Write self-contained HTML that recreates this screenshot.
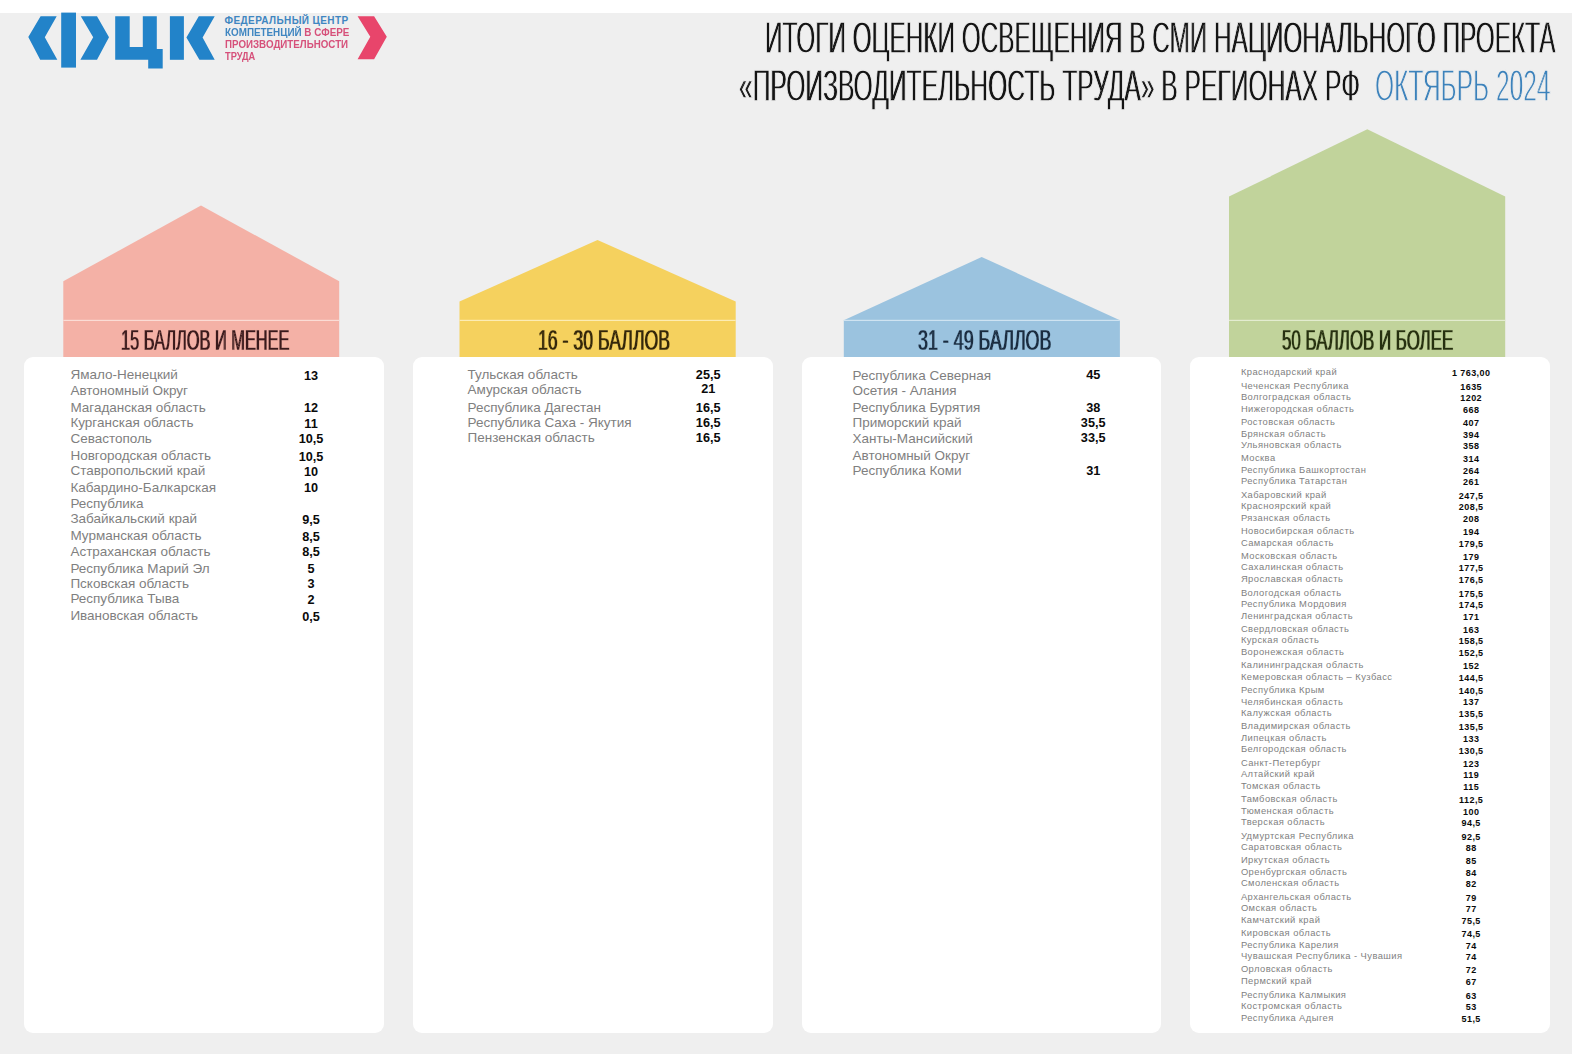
<!DOCTYPE html>
<html lang="ru"><head><meta charset="utf-8"><title>Итоги оценки освещения в СМИ</title>
<style>
html,body{margin:0;padding:0}
body{width:1572px;height:1054px;position:relative;overflow:hidden;background:#efefef;font-family:"Liberation Sans",sans-serif}
.top{position:absolute;left:0;top:0;width:1572px;height:13px;background:#fff}
.t{position:absolute;white-space:nowrap;margin:0;padding:0}
.c{text-align:center}
.n{color:#7f7f7f}
.v{color:#0a0a0a;font-weight:bold}
.card{position:absolute;background:#fff;border-radius:9px}
.cond{transform-origin:0 0}
svg{position:absolute;left:0;top:0}
.lg{font-weight:bold}
.er::before,.er::after{position:absolute;top:0;white-space:nowrap;mix-blend-mode:darken}
.et0::before,.et0::after{content:"ИТОГИ ОЦЕНКИ ОСВЕЩЕНИЯ В СМИ НАЦИОНАЛЬНОГО ПРОЕКТА"}.et0::before{left:-1.00px}.et0::after{left:1.00px}
.et1::before,.et1::after{content:"«ПРОИЗВОДИТЕЛЬНОСТЬ ТРУДА» В РЕГИОНАХ РФ"}.et1::before{left:-1.00px}.et1::after{left:1.00px}
.et2::before,.et2::after{content:"ОКТЯБРЬ 2024"}.et2::before{left:-0.54px}.et2::after{left:0.54px}
.eh0::before,.eh0::after{content:"15 БАЛЛОВ И МЕНЕЕ"}.eh0::before{left:-0.85px}.eh0::after{left:0.85px}
.eh1::before,.eh1::after{content:"16 - 30 БАЛЛОВ"}.eh1::before{left:-0.85px}.eh1::after{left:0.85px}
.eh2::before,.eh2::after{content:"31 - 49 БАЛЛОВ"}.eh2::before{left:-0.85px}.eh2::after{left:0.85px}
.eh3::before,.eh3::after{content:"50 БАЛЛОВ И БОЛЕЕ"}.eh3::before{left:-0.85px}.eh3::after{left:0.85px}
</style></head><body>
<div class="top"></div>

<svg width="1572" height="1054" viewBox="0 0 1572 1054">
<g fill="#2283c9">
<polygon points="40.6,16.2 56.7,16.2 44.8,37.3 57.3,59.8 40.2,59.8 28.3,37"/>
<rect x="61.2" y="12.6" width="14.8" height="55"/>
<polygon points="80.8,16.2 97,16.2 109,37.3 97,59.8 80.4,59.8 93.2,37.3"/>
<polygon points="115.2,16.2 129.7,16.2 129.7,47 142.8,47 142.8,16.2 156.8,16.2 156.8,48.9 162.7,48.9 162.7,68.4 148.2,68.4 148.2,59.8 115.2,59.8"/>
<rect x="169.9" y="16.2" width="14" height="43.6"/>
<polygon points="198.8,16.2 214.7,16.2 202.6,37.4 214.7,59.8 199.4,59.8 186.4,37.4"/>
</g>
<polygon fill="#e8456b" points="357.6,16.2 374.1,16.2 386.8,36.8 374.1,59.2 357.6,59.2 370.3,36.8"/>
<polygon fill="#f4b1a6" points="63.3,281.2 201,205.6 339.2,281.2 339.2,357.5 63.3,357.5"/>
<rect x="63.3" y="319.8" width="275.9" height="1.2" fill="#fbdcd5"/>
<polygon fill="#f5d15e" points="459.5,301.5 597.5,240 735.7,301.5 735.7,357.5 459.5,357.5"/>
<rect x="459.5" y="319.8" width="276.2" height="1.2" fill="#fcecb4"/>
<polygon fill="#9bc3df" points="843.8,320.2 981.7,257 1119.9,320.2 1119.9,357.5 843.8,357.5"/>
<rect x="843.8" y="319.8" width="276.1" height="1.2" fill="#cfe3f1"/>
<polygon fill="#c1d39b" points="1229,196.6 1367.3,129.2 1505.2,196.6 1505.2,357.5 1229,357.5"/>
<rect x="1229" y="319.8" width="276.2" height="1.2" fill="#e3ecd0"/>
</svg>
<div class="card" style="left:24.4px;top:356.5px;width:359.6px;height:676.4px"></div>
<div class="card" style="left:413.0px;top:356.5px;width:359.6px;height:676.4px"></div>
<div class="card" style="left:801.6px;top:356.5px;width:359.6px;height:676.4px"></div>
<div class="card" style="left:1190.2px;top:356.5px;width:359.4px;height:676.4px"></div>
<div class="t lg cond" style="left:224.6px;top:16px;font-size:10px;line-height:10px;letter-spacing:0.39px;transform:scaleX(1)"><span style="color:#3f86c1">ФЕДЕРАЛЬНЫЙ ЦЕНТР</span></div>
<div class="t lg cond" style="left:224.6px;top:28px;font-size:10px;line-height:10px;letter-spacing:0px;transform:scaleX(0.985)"><span style="color:#3f86c1">КОМПЕТЕНЦИЙ</span> <span style="color:#d6507a">В СФЕРЕ</span></div>
<div class="t lg cond" style="left:224.6px;top:40px;font-size:10px;line-height:10px;letter-spacing:0px;transform:scaleX(0.976)"><span style="color:#d6507a">ПРОИЗВОДИТЕЛЬНОСТИ</span></div>
<div class="t lg cond" style="left:224.6px;top:52px;font-size:10px;line-height:10px;letter-spacing:0px;transform:scaleX(0.925)"><span style="color:#d6507a">ТРУДА</span></div>
<div class="t cond er et0" style="left:764.5px;top:15px;font-size:45.2px;line-height:45.2px;transform:scaleX(0.5386);color:#141414;-webkit-text-stroke:1.4px #efefef;">ИТОГИ ОЦЕНКИ ОСВЕЩЕНИЯ В СМИ НАЦИОНАЛЬНОГО ПРОЕКТА</div>
<div class="t cond er et1" style="left:739.4px;top:63px;font-size:45.2px;line-height:45.2px;transform:scaleX(0.5448);color:#141414;-webkit-text-stroke:1.4px #efefef;">«ПРОИЗВОДИТЕЛЬНОСТЬ ТРУДА» В РЕГИОНАХ РФ</div>
<div class="t cond er et2" style="left:1375.4px;top:64px;font-size:44px;line-height:44px;transform:scaleX(0.5578);color:#3c82bb;-webkit-text-stroke:1.7px #efefef;">ОКТЯБРЬ 2024</div>
<div class="t cond er eh0" style="left:120.6px;top:325px;font-size:29.4px;line-height:29.4px;transform:scaleX(0.5564);color:#3a1a1c;-webkit-text-stroke:0.4px #f4b1a6;">15 БАЛЛОВ И МЕНЕЕ</div>
<div class="t cond er eh1" style="left:538.0px;top:325px;font-size:29.4px;line-height:29.4px;transform:scaleX(0.6015);color:#33260a;-webkit-text-stroke:0.4px #f5d15e;">16 - 30 БАЛЛОВ</div>
<div class="t cond er eh2" style="left:918.0px;top:325px;font-size:29.4px;line-height:29.4px;transform:scaleX(0.6075);color:#1a2c40;-webkit-text-stroke:0.4px #9bc3df;">31 - 49 БАЛЛОВ</div>
<div class="t cond er eh3" style="left:1282.4px;top:325px;font-size:29.4px;line-height:29.4px;transform:scaleX(0.574);color:#26300f;-webkit-text-stroke:0.4px #c1d39b;">50 БАЛЛОВ И БОЛЕЕ</div>
<div class="t n" style="left:70.4px;top:368px;font-size:13.5px;line-height:13.5px;">Ямало-Ненецкий</div>
<div class="t c v" style="left:211.0px;width:200px;top:370px;font-size:12.7px;line-height:12.7px;">13</div>
<div class="t n" style="left:70.4px;top:384px;font-size:13.5px;line-height:13.5px;">Автономный Округ</div>
<div class="t n" style="left:70.4px;top:401px;font-size:13.5px;line-height:13.5px;">Магаданская область</div>
<div class="t c v" style="left:211.0px;width:200px;top:402px;font-size:12.7px;line-height:12.7px;">12</div>
<div class="t n" style="left:70.4px;top:416px;font-size:13.5px;line-height:13.5px;">Курганская область</div>
<div class="t c v" style="left:211.0px;width:200px;top:418px;font-size:12.7px;line-height:12.7px;">11</div>
<div class="t n" style="left:70.4px;top:432px;font-size:13.5px;line-height:13.5px;">Севастополь</div>
<div class="t c v" style="left:211.0px;width:200px;top:433px;font-size:12.7px;line-height:12.7px;">10,5</div>
<div class="t n" style="left:70.4px;top:449px;font-size:13.5px;line-height:13.5px;">Новгородская область</div>
<div class="t c v" style="left:211.0px;width:200px;top:451px;font-size:12.7px;line-height:12.7px;">10,5</div>
<div class="t n" style="left:70.4px;top:464px;font-size:13.5px;line-height:13.5px;">Ставропольский край</div>
<div class="t c v" style="left:211.0px;width:200px;top:466px;font-size:12.7px;line-height:12.7px;">10</div>
<div class="t n" style="left:70.4px;top:481px;font-size:13.5px;line-height:13.5px;">Кабардино-Балкарская</div>
<div class="t c v" style="left:211.0px;width:200px;top:482px;font-size:12.7px;line-height:12.7px;">10</div>
<div class="t n" style="left:70.4px;top:497px;font-size:13.5px;line-height:13.5px;">Республика</div>
<div class="t n" style="left:70.4px;top:512px;font-size:13.5px;line-height:13.5px;">Забайкальский край</div>
<div class="t c v" style="left:211.0px;width:200px;top:514px;font-size:12.7px;line-height:12.7px;">9,5</div>
<div class="t n" style="left:70.4px;top:529px;font-size:13.5px;line-height:13.5px;">Мурманская область</div>
<div class="t c v" style="left:211.0px;width:200px;top:531px;font-size:12.7px;line-height:12.7px;">8,5</div>
<div class="t n" style="left:70.4px;top:545px;font-size:13.5px;line-height:13.5px;">Астраханская область</div>
<div class="t c v" style="left:211.0px;width:200px;top:546px;font-size:12.7px;line-height:12.7px;">8,5</div>
<div class="t n" style="left:70.4px;top:562px;font-size:13.5px;line-height:13.5px;">Республика Марий Эл</div>
<div class="t c v" style="left:211.0px;width:200px;top:563px;font-size:12.7px;line-height:12.7px;">5</div>
<div class="t n" style="left:70.4px;top:577px;font-size:13.5px;line-height:13.5px;">Псковская область</div>
<div class="t c v" style="left:211.0px;width:200px;top:578px;font-size:12.7px;line-height:12.7px;">3</div>
<div class="t n" style="left:70.4px;top:592px;font-size:13.5px;line-height:13.5px;">Республика Тыва</div>
<div class="t c v" style="left:211.0px;width:200px;top:594px;font-size:12.7px;line-height:12.7px;">2</div>
<div class="t n" style="left:70.4px;top:609px;font-size:13.5px;line-height:13.5px;">Ивановская область</div>
<div class="t c v" style="left:211.0px;width:200px;top:611px;font-size:12.7px;line-height:12.7px;">0,5</div>
<div class="t n" style="left:467.5px;top:368px;font-size:13.5px;line-height:13.5px;">Тульская область</div>
<div class="t c v" style="left:608.2px;width:200px;top:369px;font-size:12.7px;line-height:12.7px;">25,5</div>
<div class="t n" style="left:467.5px;top:383px;font-size:13.5px;line-height:13.5px;">Амурская область</div>
<div class="t c v" style="left:608.2px;width:200px;top:383px;font-size:12.7px;line-height:12.7px;">21</div>
<div class="t n" style="left:467.5px;top:401px;font-size:13.5px;line-height:13.5px;">Республика Дагестан</div>
<div class="t c v" style="left:608.2px;width:200px;top:402px;font-size:12.7px;line-height:12.7px;">16,5</div>
<div class="t n" style="left:467.5px;top:416px;font-size:13.5px;line-height:13.5px;">Республика Саха - Якутия</div>
<div class="t c v" style="left:608.2px;width:200px;top:417px;font-size:12.7px;line-height:12.7px;">16,5</div>
<div class="t n" style="left:467.5px;top:431px;font-size:13.5px;line-height:13.5px;">Пензенская область</div>
<div class="t c v" style="left:608.2px;width:200px;top:432px;font-size:12.7px;line-height:12.7px;">16,5</div>
<div class="t n" style="left:852.5px;top:369px;font-size:13.5px;line-height:13.5px;">Республика Северная</div>
<div class="t c v" style="left:993.2px;width:200px;top:369px;font-size:12.7px;line-height:12.7px;">45</div>
<div class="t n" style="left:852.5px;top:384px;font-size:13.5px;line-height:13.5px;">Осетия - Алания</div>
<div class="t n" style="left:852.5px;top:401px;font-size:13.5px;line-height:13.5px;">Республика Бурятия</div>
<div class="t c v" style="left:993.2px;width:200px;top:402px;font-size:12.7px;line-height:12.7px;">38</div>
<div class="t n" style="left:852.5px;top:416px;font-size:13.5px;line-height:13.5px;">Приморский край</div>
<div class="t c v" style="left:993.2px;width:200px;top:417px;font-size:12.7px;line-height:12.7px;">35,5</div>
<div class="t n" style="left:852.5px;top:432px;font-size:13.5px;line-height:13.5px;">Ханты-Мансийский</div>
<div class="t c v" style="left:993.2px;width:200px;top:432px;font-size:12.7px;line-height:12.7px;">33,5</div>
<div class="t n" style="left:852.5px;top:449px;font-size:13.5px;line-height:13.5px;">Автономный Округ</div>
<div class="t n" style="left:852.5px;top:464px;font-size:13.5px;line-height:13.5px;">Республика Коми</div>
<div class="t c v" style="left:993.2px;width:200px;top:465px;font-size:12.7px;line-height:12.7px;">31</div>
<div class="t n" style="left:1240.9px;top:367px;font-size:9.4px;line-height:9.4px;letter-spacing:0.44px">Краснодарский край</div>
<div class="t c v" style="left:1371.2px;width:200px;top:369px;font-size:9.0px;line-height:9.0px;letter-spacing:0.43px">1 763,00</div>
<div class="t n" style="left:1240.9px;top:381px;font-size:9.4px;line-height:9.4px;letter-spacing:0.44px">Чеченская Республика</div>
<div class="t c v" style="left:1371.2px;width:200px;top:383px;font-size:9.0px;line-height:9.0px;letter-spacing:0.43px">1635</div>
<div class="t n" style="left:1240.9px;top:392px;font-size:9.4px;line-height:9.4px;letter-spacing:0.44px">Волгоградская область</div>
<div class="t c v" style="left:1371.2px;width:200px;top:394px;font-size:9.0px;line-height:9.0px;letter-spacing:0.43px">1202</div>
<div class="t n" style="left:1240.9px;top:404px;font-size:9.4px;line-height:9.4px;letter-spacing:0.44px">Нижегородская область</div>
<div class="t c v" style="left:1371.2px;width:200px;top:406px;font-size:9.0px;line-height:9.0px;letter-spacing:0.43px">668</div>
<div class="t n" style="left:1240.9px;top:417px;font-size:9.4px;line-height:9.4px;letter-spacing:0.44px">Ростовская область</div>
<div class="t c v" style="left:1371.2px;width:200px;top:419px;font-size:9.0px;line-height:9.0px;letter-spacing:0.43px">407</div>
<div class="t n" style="left:1240.9px;top:429px;font-size:9.4px;line-height:9.4px;letter-spacing:0.44px">Брянская область</div>
<div class="t c v" style="left:1371.2px;width:200px;top:431px;font-size:9.0px;line-height:9.0px;letter-spacing:0.43px">394</div>
<div class="t n" style="left:1240.9px;top:440px;font-size:9.4px;line-height:9.4px;letter-spacing:0.44px">Ульяновская область</div>
<div class="t c v" style="left:1371.2px;width:200px;top:442px;font-size:9.0px;line-height:9.0px;letter-spacing:0.43px">358</div>
<div class="t n" style="left:1240.9px;top:453px;font-size:9.4px;line-height:9.4px;letter-spacing:0.44px">Москва</div>
<div class="t c v" style="left:1371.2px;width:200px;top:455px;font-size:9.0px;line-height:9.0px;letter-spacing:0.43px">314</div>
<div class="t n" style="left:1240.9px;top:465px;font-size:9.4px;line-height:9.4px;letter-spacing:0.44px">Республика Башкортостан</div>
<div class="t c v" style="left:1371.2px;width:200px;top:467px;font-size:9.0px;line-height:9.0px;letter-spacing:0.43px">264</div>
<div class="t n" style="left:1240.9px;top:476px;font-size:9.4px;line-height:9.4px;letter-spacing:0.44px">Республика Татарстан</div>
<div class="t c v" style="left:1371.2px;width:200px;top:478px;font-size:9.0px;line-height:9.0px;letter-spacing:0.43px">261</div>
<div class="t n" style="left:1240.9px;top:490px;font-size:9.4px;line-height:9.4px;letter-spacing:0.44px">Хабаровский край</div>
<div class="t c v" style="left:1371.2px;width:200px;top:492px;font-size:9.0px;line-height:9.0px;letter-spacing:0.43px">247,5</div>
<div class="t n" style="left:1240.9px;top:501px;font-size:9.4px;line-height:9.4px;letter-spacing:0.44px">Красноярский край</div>
<div class="t c v" style="left:1371.2px;width:200px;top:503px;font-size:9.0px;line-height:9.0px;letter-spacing:0.43px">208,5</div>
<div class="t n" style="left:1240.9px;top:513px;font-size:9.4px;line-height:9.4px;letter-spacing:0.44px">Рязанская область</div>
<div class="t c v" style="left:1371.2px;width:200px;top:515px;font-size:9.0px;line-height:9.0px;letter-spacing:0.43px">208</div>
<div class="t n" style="left:1240.9px;top:526px;font-size:9.4px;line-height:9.4px;letter-spacing:0.44px">Новосибирская область</div>
<div class="t c v" style="left:1371.2px;width:200px;top:528px;font-size:9.0px;line-height:9.0px;letter-spacing:0.43px">194</div>
<div class="t n" style="left:1240.9px;top:538px;font-size:9.4px;line-height:9.4px;letter-spacing:0.44px">Самарская область</div>
<div class="t c v" style="left:1371.2px;width:200px;top:540px;font-size:9.0px;line-height:9.0px;letter-spacing:0.43px">179,5</div>
<div class="t n" style="left:1240.9px;top:551px;font-size:9.4px;line-height:9.4px;letter-spacing:0.44px">Московская область</div>
<div class="t c v" style="left:1371.2px;width:200px;top:553px;font-size:9.0px;line-height:9.0px;letter-spacing:0.43px">179</div>
<div class="t n" style="left:1240.9px;top:562px;font-size:9.4px;line-height:9.4px;letter-spacing:0.44px">Сахалинская область</div>
<div class="t c v" style="left:1371.2px;width:200px;top:564px;font-size:9.0px;line-height:9.0px;letter-spacing:0.43px">177,5</div>
<div class="t n" style="left:1240.9px;top:574px;font-size:9.4px;line-height:9.4px;letter-spacing:0.44px">Ярославская область</div>
<div class="t c v" style="left:1371.2px;width:200px;top:576px;font-size:9.0px;line-height:9.0px;letter-spacing:0.43px">176,5</div>
<div class="t n" style="left:1240.9px;top:588px;font-size:9.4px;line-height:9.4px;letter-spacing:0.44px">Вологодская область</div>
<div class="t c v" style="left:1371.2px;width:200px;top:590px;font-size:9.0px;line-height:9.0px;letter-spacing:0.43px">175,5</div>
<div class="t n" style="left:1240.9px;top:599px;font-size:9.4px;line-height:9.4px;letter-spacing:0.44px">Республика Мордовия</div>
<div class="t c v" style="left:1371.2px;width:200px;top:601px;font-size:9.0px;line-height:9.0px;letter-spacing:0.43px">174,5</div>
<div class="t n" style="left:1240.9px;top:611px;font-size:9.4px;line-height:9.4px;letter-spacing:0.44px">Ленинградская область</div>
<div class="t c v" style="left:1371.2px;width:200px;top:613px;font-size:9.0px;line-height:9.0px;letter-spacing:0.43px">171</div>
<div class="t n" style="left:1240.9px;top:624px;font-size:9.4px;line-height:9.4px;letter-spacing:0.44px">Свердловская область</div>
<div class="t c v" style="left:1371.2px;width:200px;top:626px;font-size:9.0px;line-height:9.0px;letter-spacing:0.43px">163</div>
<div class="t n" style="left:1240.9px;top:635px;font-size:9.4px;line-height:9.4px;letter-spacing:0.44px">Курская область</div>
<div class="t c v" style="left:1371.2px;width:200px;top:637px;font-size:9.0px;line-height:9.0px;letter-spacing:0.43px">158,5</div>
<div class="t n" style="left:1240.9px;top:647px;font-size:9.4px;line-height:9.4px;letter-spacing:0.44px">Воронежская область</div>
<div class="t c v" style="left:1371.2px;width:200px;top:649px;font-size:9.0px;line-height:9.0px;letter-spacing:0.43px">152,5</div>
<div class="t n" style="left:1240.9px;top:660px;font-size:9.4px;line-height:9.4px;letter-spacing:0.44px">Калининградская область</div>
<div class="t c v" style="left:1371.2px;width:200px;top:662px;font-size:9.0px;line-height:9.0px;letter-spacing:0.43px">152</div>
<div class="t n" style="left:1240.9px;top:672px;font-size:9.4px;line-height:9.4px;letter-spacing:0.44px">Кемеровская область – Кузбасс</div>
<div class="t c v" style="left:1371.2px;width:200px;top:674px;font-size:9.0px;line-height:9.0px;letter-spacing:0.43px">144,5</div>
<div class="t n" style="left:1240.9px;top:685px;font-size:9.4px;line-height:9.4px;letter-spacing:0.44px">Республика Крым</div>
<div class="t c v" style="left:1371.2px;width:200px;top:687px;font-size:9.0px;line-height:9.0px;letter-spacing:0.43px">140,5</div>
<div class="t n" style="left:1240.9px;top:697px;font-size:9.4px;line-height:9.4px;letter-spacing:0.44px">Челябинская область</div>
<div class="t c v" style="left:1371.2px;width:200px;top:698px;font-size:9.0px;line-height:9.0px;letter-spacing:0.43px">137</div>
<div class="t n" style="left:1240.9px;top:708px;font-size:9.4px;line-height:9.4px;letter-spacing:0.44px">Калужская область</div>
<div class="t c v" style="left:1371.2px;width:200px;top:710px;font-size:9.0px;line-height:9.0px;letter-spacing:0.43px">135,5</div>
<div class="t n" style="left:1240.9px;top:721px;font-size:9.4px;line-height:9.4px;letter-spacing:0.44px">Владимирская область</div>
<div class="t c v" style="left:1371.2px;width:200px;top:723px;font-size:9.0px;line-height:9.0px;letter-spacing:0.43px">135,5</div>
<div class="t n" style="left:1240.9px;top:733px;font-size:9.4px;line-height:9.4px;letter-spacing:0.44px">Липецкая область</div>
<div class="t c v" style="left:1371.2px;width:200px;top:735px;font-size:9.0px;line-height:9.0px;letter-spacing:0.43px">133</div>
<div class="t n" style="left:1240.9px;top:744px;font-size:9.4px;line-height:9.4px;letter-spacing:0.44px">Белгородская область</div>
<div class="t c v" style="left:1371.2px;width:200px;top:747px;font-size:9.0px;line-height:9.0px;letter-spacing:0.43px">130,5</div>
<div class="t n" style="left:1240.9px;top:758px;font-size:9.4px;line-height:9.4px;letter-spacing:0.44px">Санкт-Петербург</div>
<div class="t c v" style="left:1371.2px;width:200px;top:760px;font-size:9.0px;line-height:9.0px;letter-spacing:0.43px">123</div>
<div class="t n" style="left:1240.9px;top:769px;font-size:9.4px;line-height:9.4px;letter-spacing:0.44px">Алтайский край</div>
<div class="t c v" style="left:1371.2px;width:200px;top:771px;font-size:9.0px;line-height:9.0px;letter-spacing:0.43px">119</div>
<div class="t n" style="left:1240.9px;top:781px;font-size:9.4px;line-height:9.4px;letter-spacing:0.44px">Томская область</div>
<div class="t c v" style="left:1371.2px;width:200px;top:783px;font-size:9.0px;line-height:9.0px;letter-spacing:0.43px">115</div>
<div class="t n" style="left:1240.9px;top:794px;font-size:9.4px;line-height:9.4px;letter-spacing:0.44px">Тамбовская область</div>
<div class="t c v" style="left:1371.2px;width:200px;top:796px;font-size:9.0px;line-height:9.0px;letter-spacing:0.43px">112,5</div>
<div class="t n" style="left:1240.9px;top:806px;font-size:9.4px;line-height:9.4px;letter-spacing:0.44px">Тюменская область</div>
<div class="t c v" style="left:1371.2px;width:200px;top:808px;font-size:9.0px;line-height:9.0px;letter-spacing:0.43px">100</div>
<div class="t n" style="left:1240.9px;top:817px;font-size:9.4px;line-height:9.4px;letter-spacing:0.44px">Тверская область</div>
<div class="t c v" style="left:1371.2px;width:200px;top:819px;font-size:9.0px;line-height:9.0px;letter-spacing:0.43px">94,5</div>
<div class="t n" style="left:1240.9px;top:831px;font-size:9.4px;line-height:9.4px;letter-spacing:0.44px">Удмуртская Республика</div>
<div class="t c v" style="left:1371.2px;width:200px;top:833px;font-size:9.0px;line-height:9.0px;letter-spacing:0.43px">92,5</div>
<div class="t n" style="left:1240.9px;top:842px;font-size:9.4px;line-height:9.4px;letter-spacing:0.44px">Саратовская область</div>
<div class="t c v" style="left:1371.2px;width:200px;top:844px;font-size:9.0px;line-height:9.0px;letter-spacing:0.43px">88</div>
<div class="t n" style="left:1240.9px;top:855px;font-size:9.4px;line-height:9.4px;letter-spacing:0.44px">Иркутская область</div>
<div class="t c v" style="left:1371.2px;width:200px;top:857px;font-size:9.0px;line-height:9.0px;letter-spacing:0.43px">85</div>
<div class="t n" style="left:1240.9px;top:867px;font-size:9.4px;line-height:9.4px;letter-spacing:0.44px">Оренбургская область</div>
<div class="t c v" style="left:1371.2px;width:200px;top:869px;font-size:9.0px;line-height:9.0px;letter-spacing:0.43px">84</div>
<div class="t n" style="left:1240.9px;top:878px;font-size:9.4px;line-height:9.4px;letter-spacing:0.44px">Смоленская область</div>
<div class="t c v" style="left:1371.2px;width:200px;top:880px;font-size:9.0px;line-height:9.0px;letter-spacing:0.43px">82</div>
<div class="t n" style="left:1240.9px;top:892px;font-size:9.4px;line-height:9.4px;letter-spacing:0.44px">Архангельская область</div>
<div class="t c v" style="left:1371.2px;width:200px;top:894px;font-size:9.0px;line-height:9.0px;letter-spacing:0.43px">79</div>
<div class="t n" style="left:1240.9px;top:903px;font-size:9.4px;line-height:9.4px;letter-spacing:0.44px">Омская область</div>
<div class="t c v" style="left:1371.2px;width:200px;top:905px;font-size:9.0px;line-height:9.0px;letter-spacing:0.43px">77</div>
<div class="t n" style="left:1240.9px;top:915px;font-size:9.4px;line-height:9.4px;letter-spacing:0.44px">Камчатский край</div>
<div class="t c v" style="left:1371.2px;width:200px;top:917px;font-size:9.0px;line-height:9.0px;letter-spacing:0.43px">75,5</div>
<div class="t n" style="left:1240.9px;top:928px;font-size:9.4px;line-height:9.4px;letter-spacing:0.44px">Кировская область</div>
<div class="t c v" style="left:1371.2px;width:200px;top:930px;font-size:9.0px;line-height:9.0px;letter-spacing:0.43px">74,5</div>
<div class="t n" style="left:1240.9px;top:940px;font-size:9.4px;line-height:9.4px;letter-spacing:0.44px">Республика Карелия</div>
<div class="t c v" style="left:1371.2px;width:200px;top:942px;font-size:9.0px;line-height:9.0px;letter-spacing:0.43px">74</div>
<div class="t n" style="left:1240.9px;top:951px;font-size:9.4px;line-height:9.4px;letter-spacing:0.44px">Чувашская Республика - Чувашия</div>
<div class="t c v" style="left:1371.2px;width:200px;top:953px;font-size:9.0px;line-height:9.0px;letter-spacing:0.43px">74</div>
<div class="t n" style="left:1240.9px;top:964px;font-size:9.4px;line-height:9.4px;letter-spacing:0.44px">Орловская область</div>
<div class="t c v" style="left:1371.2px;width:200px;top:966px;font-size:9.0px;line-height:9.0px;letter-spacing:0.43px">72</div>
<div class="t n" style="left:1240.9px;top:976px;font-size:9.4px;line-height:9.4px;letter-spacing:0.44px">Пермский край</div>
<div class="t c v" style="left:1371.2px;width:200px;top:978px;font-size:9.0px;line-height:9.0px;letter-spacing:0.43px">67</div>
<div class="t n" style="left:1240.9px;top:990px;font-size:9.4px;line-height:9.4px;letter-spacing:0.44px">Республика Калмыкия</div>
<div class="t c v" style="left:1371.2px;width:200px;top:992px;font-size:9.0px;line-height:9.0px;letter-spacing:0.43px">63</div>
<div class="t n" style="left:1240.9px;top:1001px;font-size:9.4px;line-height:9.4px;letter-spacing:0.44px">Костромская область</div>
<div class="t c v" style="left:1371.2px;width:200px;top:1003px;font-size:9.0px;line-height:9.0px;letter-spacing:0.43px">53</div>
<div class="t n" style="left:1240.9px;top:1013px;font-size:9.4px;line-height:9.4px;letter-spacing:0.44px">Республика Адыгея</div>
<div class="t c v" style="left:1371.2px;width:200px;top:1015px;font-size:9.0px;line-height:9.0px;letter-spacing:0.43px">51,5</div>
</body></html>
